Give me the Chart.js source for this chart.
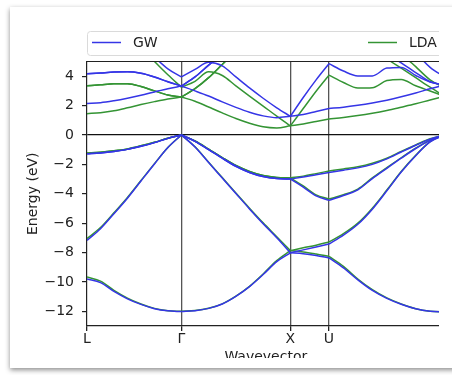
<!DOCTYPE html>
<html>
<head>
<meta charset="utf-8">
<script src="https://cdn.jsdelivr.net/npm/chart.js@4.4.1/dist/chart.umd.min.js"></script>
<style>
  html, body { margin: 0; padding: 0; background: #fff; }
  body { width: 452px; height: 375px; overflow: hidden; position: relative; }
  .carte { position: absolute; left: 10px; top: 7px; width: 470px; height: 361px; background: #fff; box-shadow: 0 2px 5px rgba(0,0,0,0.45); }
  .cadre { position: absolute; left: 10px; top: 7px; width: 429px; height: 351px; overflow: hidden; }
  #bandes { position: absolute; left: -10px; top: -7px; }
</style>
</head>
<body>
<div class="carte"></div>
<div class="cadre"><canvas id="bandes" width="500" height="380"></canvas></div>
<script>
// ........ chemin L - Γ - X - U|K - Γ ........
const kPath = [0, 0.124, 0.247, 0.371, 0.495, 0.619, 0.742, 0.866,
  0.991, 1.116, 1.241, 1.366, 1.491, 1.616, 1.741, 1.866,
  1.984, 2.102, 2.22,
  2.353, 2.485, 2.618, 2.751, 2.883, 3.016, 3.148, 3.281];
const kTicks = [0, 0.866, 1.866, 2.22, 3.281];
const kLabels = ['L', 'Γ', 'X', 'U', 'Γ'];
const yTicks = [4, 2, 0, -2, -4, -6, -8, -10, -12];
// indices des points de haute symétrie
const segments = [[0, 7], [7, 15], [15, 18], [18, 26]];

// ........ bandes GW (eV) ........
const gw1 = [-9.8, -10.05, -10.65, -11.15, -11.53, -11.82, -11.97, -12.02, -11.96, -11.8, -11.5, -10.98, -10.32, -9.5, -8.62, -8.02, -8.08, -8.2, -8.37, -9.05, -9.86, -10.58, -11.12, -11.52, -11.83, -12.0, -12.05];
const gw2 = [-7.17, -6.38, -5.36, -4.3, -3.13, -1.97, -0.86, 0, -0.82, -1.88, -2.93, -3.98, -5.03, -6.04, -7.0, -8.02, -7.82, -7.62, -7.42, -6.82, -6.08, -5.05, -3.8, -2.52, -1.41, -0.47, 0];
const gw3 = [-1.28, -1.22, -1.12, -0.98, -0.77, -0.52, -0.23, 0, -0.43, -0.99, -1.58, -2.13, -2.55, -2.83, -2.97, -3.0, -3.55, -4.15, -4.45, -4.12, -3.73, -2.97, -2.27, -1.58, -0.92, -0.37, 0];
const gw4 = [-1.28, -1.22, -1.12, -0.98, -0.77, -0.52, -0.23, 0, -0.43, -0.99, -1.58, -2.13, -2.55, -2.83, -2.97, -3.0, -2.86, -2.7, -2.55, -2.4, -2.24, -2.0, -1.63, -1.16, -0.7, -0.28, 0];
const gw5 = [2.15, 2.2, 2.33, 2.5, 2.7, 2.93, 3.15, 3.33, 3.0, 2.65, 2.25, 1.88, 1.55, 1.3, 1.18, 1.27, 1.4, 1.6, 1.8, 1.89, 2.02, 2.18, 2.37, 2.6, 2.86, 3.14, 3.4];
const gw6 = [4.16, 4.22, 4.28, 4.3, 4.2, 3.95, 3.62, 3.33, 3.95, 4.75, 5.5, 6.2, 6.8, 7.3, 7.7, 8.0, 8.2, 8.4, 8.5, 7.6, 7.0, 6.3, 5.6, 4.9, 4.25, 3.62, 3.4];
const gw7 = [8.5, 8.2, 7.8, 7.2, 6.2, 5.3, 4.5, 3.95, 4.46, 4.95, 4.7, 3.95, 3.2, 2.5, 1.85, 1.27, 2.55, 3.75, 4.85, 4.35, 4.02, 4.02, 4.55, 4.6, 4.05, 3.6, 3.4];
const gw8 = [4.16, 4.22, 4.28, 4.3, 4.2, 3.95, 3.62, 3.33, 3.95, 4.75, 5.5, 6.2, 6.8, 7.3, 7.7, 8.0, 8.6, 9.0, 9.2, 9.0, 8.6, 8.0, 7.3, 6.6, 5.6, 4.6, 3.95];

// ........ bandes LDA (eV) ........
const lda1 = [-9.67, -9.95, -10.57, -11.1, -11.5, -11.8, -11.96, -12.0, -11.95, -11.79, -11.49, -10.97, -10.3, -9.46, -8.55, -7.87, -7.96, -8.1, -8.26, -8.94, -9.8, -10.53, -11.09, -11.5, -11.82, -11.99, -12.04];
const lda2 = [-7.05, -6.3, -5.3, -4.25, -3.1, -1.95, -0.85, 0, -0.8, -1.85, -2.9, -3.95, -4.98, -5.98, -6.92, -7.87, -7.68, -7.5, -7.28, -6.72, -6.0, -4.98, -3.75, -2.48, -1.38, -0.45, 0];
const lda3 = [-1.22, -1.17, -1.08, -0.95, -0.74, -0.5, -0.22, 0, -0.41, -0.96, -1.54, -2.08, -2.48, -2.76, -2.89, -2.92, -3.47, -4.08, -4.36, -4.07, -3.68, -2.92, -2.22, -1.55, -0.9, -0.35, 0];
const lda4 = [-1.22, -1.17, -1.08, -0.95, -0.74, -0.5, -0.22, 0, -0.41, -0.96, -1.54, -2.08, -2.48, -2.76, -2.89, -2.92, -2.8, -2.63, -2.45, -2.31, -2.17, -1.93, -1.58, -1.12, -0.68, -0.26, 0];
const lda5 = [1.45, 1.52, 1.65, 1.85, 2.07, 2.27, 2.45, 2.58, 2.3, 1.9, 1.5, 1.12, 0.8, 0.56, 0.48, 0.62, 0.75, 0.92, 1.09, 1.19, 1.32, 1.48, 1.67, 1.89, 2.12, 2.38, 2.63];
const lda6 = [3.35, 3.42, 3.48, 3.48, 3.3, 3.0, 2.72, 2.58, 3.15, 3.9, 4.8, 5.7, 6.4, 7.0, 7.5, 7.8, 8.0, 8.2, 8.3, 7.4, 6.8, 6.1, 5.2, 4.55, 3.9, 3.25, 2.63];
const lda7 = [8.0, 7.6, 7.2, 6.6, 5.9, 5.0, 4.1, 3.25, 3.65, 4.3, 4.05, 3.34, 2.65, 1.97, 1.28, 0.62, 1.8, 2.98, 4.07, 3.57, 3.2, 3.22, 3.7, 3.78, 3.35, 2.99, 2.63];
const lda8 = [3.35, 3.42, 3.48, 3.48, 3.3, 3.0, 2.72, 2.58, 3.15, 3.9, 4.8, 5.7, 6.4, 7.0, 7.5, 7.8, 8.4, 8.8, 9.0, 8.8, 8.4, 7.8, 7.0, 5.6, 4.65, 3.75, 3.2];

const gwBands = [gw1, gw2, gw3, gw4, gw5, gw6, gw7, gw8];
const ldaBands = [lda1, lda2, lda3, lda4, lda5, lda6, lda7, lda8];

const bleu = '#3535e6';
const vert = '#349434';

// une courbe par bande et par segment (cassure aux points de symétrie)
function traits(bands, label, color) {
    const sets = [];
    bands.forEach(band => {
        segments.forEach(([a, b]) => {
            const pts = [];
            for (let i = a; i <= b; i++) pts.push({x: kPath[i], y: band[i]});
            sets.push({
                label: label,
                data: pts,
                borderColor: color,
                backgroundColor: color,
                borderWidth: 1.5,
                pointRadius: 0,
                fill: false,
                cubicInterpolationMode: 'monotone',
                capBezierPoints: false
            });
        });
    });
    return sets;
}

// ........ légende + trait du haut ........
const legende = {
    id: 'legende',
    afterDraw(chart) {
        const c = chart.ctx;
        const a = chart.chartArea;
        c.save();
        c.strokeStyle = '#222';
        c.lineWidth = 1.2;
        c.beginPath();
        c.moveTo(a.left, a.top);
        c.lineTo(a.right, a.top);
        c.stroke();

        const x0 = a.left + 0.5, y0 = 31.5, x1 = a.right, y1 = 55.5, r = 3;
        c.beginPath();
        c.moveTo(x0 + r, y0);
        c.arcTo(x1, y0, x1, y1, r);
        c.arcTo(x1, y1, x0, y1, r);
        c.arcTo(x0, y1, x0, y0, r);
        c.arcTo(x0, y0, x1, y0, r);
        c.closePath();
        c.fillStyle = 'rgba(255,255,255,0.85)';
        c.fill();
        c.strokeStyle = '#dadada';
        c.lineWidth = 1;
        c.stroke();

        const items = [['GW', bleu, 92], ['LDA', vert, 368]];
        c.font = '14px "DejaVu Sans"';
        c.textBaseline = 'middle';
        c.fillStyle = '#222';
        items.forEach(([txt, col, x]) => {
            c.strokeStyle = col;
            c.lineWidth = 1.5;
            c.beginPath();
            c.moveTo(x, 42.5);
            c.lineTo(x + 29, 42.5);
            c.stroke();
            c.fillText(txt, x + 41, 43);
        });
        c.restore();
    }
};

const ctx = document.getElementById('bandes').getContext('2d');
const chart = new Chart(ctx, {
    type: 'line',
    data: {
        datasets: traits(gwBands, 'GW', bleu).concat(traits(ldaBands, 'LDA', vert))
    },
    options: {
        responsive: false,
        animation: false,
        devicePixelRatio: 1,
        events: [],
        layout: { padding: { left: 0, right: 55.4, top: 61.5, bottom: 0 } },
        plugins: {
            legend: { display: false },
            tooltip: { enabled: false }
        },
        scales: {
            x: {
                type: 'linear',
                min: 0,
                max: 3.281,
                afterBuildTicks: s => { s.ticks = kTicks.map(v => ({value: v})); },
                afterFit: s => { s.height = 54; },
                ticks: {
                    autoSkip: false,
                    maxRotation: 0,
                    padding: 0,
                    color: '#222',
                    font: { family: 'DejaVu Sans', size: 14 },
                    callback: v => kLabels[kTicks.indexOf(v)]
                },
                grid: {
                    color: c => c.index === 0 ? 'rgba(0,0,0,0)' : '#555',
                    lineWidth: 1.3,
                    tickColor: '#222',
                    tickLength: 5
                },
                border: { display: true, color: '#222', width: 1.2 },
                title: {
                    display: true,
                    text: 'Wavevector',
                    color: '#222',
                    font: { family: 'DejaVu Sans', size: 14 },
                    padding: { top: 0, bottom: 14.2 }
                }
            },
            y: {
                min: -13,
                max: 5,
                afterBuildTicks: s => { s.ticks = yTicks.map(v => ({value: v})); },
                afterFit: s => { s.width = 87; },
                ticks: {
                    padding: 8,
                    color: '#222',
                    font: { family: 'DejaVu Sans', size: 14 },
                    callback: v => v < 0 ? '\u2212' + Math.abs(v) : String(v)
                },
                grid: {
                    color: c => (c.tick && c.tick.value === 0) ? '#111' : 'rgba(0,0,0,0)',
                    lineWidth: 1.2,
                    tickColor: '#222',
                    tickLength: 5
                },
                border: { display: true, color: '#222', width: 1.2 },
                title: {
                    display: true,
                    text: 'Energy (eV)',
                    color: '#222',
                    font: { family: 'DejaVu Sans', size: 14 },
                    padding: { top: 25.3, bottom: 0 }
                }
            }
        }
    },
    plugins: [legende]
});
</script>
</body>
</html>
